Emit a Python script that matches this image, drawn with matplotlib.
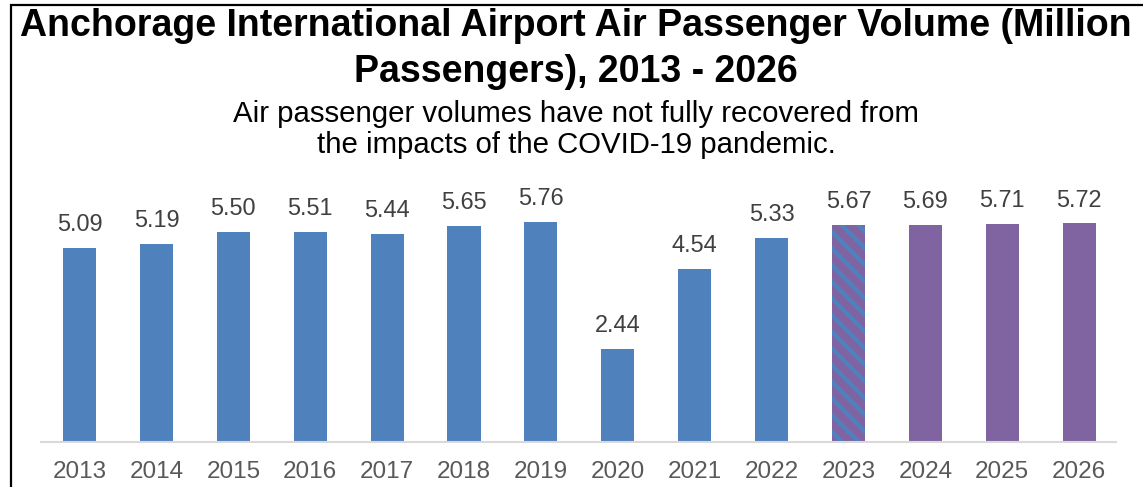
import matplotlib
matplotlib.use("Agg")
import matplotlib.pyplot as plt
from matplotlib.patches import Rectangle

years = ["2013", "2014", "2015", "2016", "2017", "2018", "2019",
         "2020", "2021", "2022", "2023", "2024", "2025", "2026"]
passengers = [5.09, 5.19, 5.50, 5.51, 5.44, 5.65, 5.76,
              2.44, 4.54, 5.33, 5.67, 5.69, 5.71, 5.72]
kind = ["actual"] * 10 + ["partial"] + ["forecast"] * 3

title_lines = ["Anchorage International Airport Air Passenger Volume (Million",
               "Passengers), 2013 - 2026"]
subtitle_lines = ["Air passenger volumes have not fully recovered from",
                  "the impacts of the COVID-19 pandemic."]

BLUE = "#4F81BD"
PURPLE = "#8064A2"

plt.rcParams['font.family'] = ['Liberation Sans', 'DejaVu Sans']
plt.rcParams['hatch.linewidth'] = 3.0

W, H = 1143, 487
fig = plt.figure(figsize=(W / 100, H / 100), dpi=100)

# border
fig.patches.append(Rectangle((11 / W, -0.1), 1.2, 1 - 5 / H + 0.1,
                             transform=fig.transFigure, fill=False,
                             edgecolor="black", linewidth=1.6))

ax_l, ax_r, ax_b, ax_t = 40.6, 1116, 442, 170
ax = fig.add_axes([ax_l / W, 1 - ax_b / H, (ax_r - ax_l) / W, (ax_b - ax_t) / H])

x = list(range(len(years)))
for xi, v, k in zip(x, passengers, kind):
    if k == "actual":
        ax.bar(xi, v, width=0.43, color=BLUE, linewidth=0)
    elif k == "forecast":
        ax.bar(xi, v, width=0.43, color=PURPLE, linewidth=0)
    else:
        ax.bar(xi, v, width=0.43, facecolor=PURPLE, edgecolor=BLUE,
               hatch="\\\\", linewidth=0)
    ax.annotate(f"{v:.2f}", (xi, v), xytext=(0, 12.2), textcoords="offset points",
                ha="center", va="baseline", fontsize=16.9, color="#404040")

ax.set_xlim(-0.507, 13.48)
ax.set_ylim(0, 7.12)
ax.set_xticks(x)
ax.set_xticklabels(years, fontsize=17.5, color="#595959")
ax.tick_params(axis="x", length=0, pad=13.5)
ax.set_yticks([])
for s in ["top", "right", "left"]:
    ax.spines[s].set_visible(False)
ax.spines["bottom"].set_color("#D9D9D9")
ax.spines["bottom"].set_linewidth(1.5)

for line, yb in zip(title_lines, [36, 82]):
    fig.text(576 / W, 1 - yb / H, line, ha="center", va="baseline",
             fontsize=27, fontweight="bold", color="black")
for line, yb in zip(subtitle_lines, [122, 153]):
    fig.text(576 / W, 1 - yb / H, line, ha="center", va="baseline",
             fontsize=21.2, color="black")

fig.savefig("out.png", dpi=100)
